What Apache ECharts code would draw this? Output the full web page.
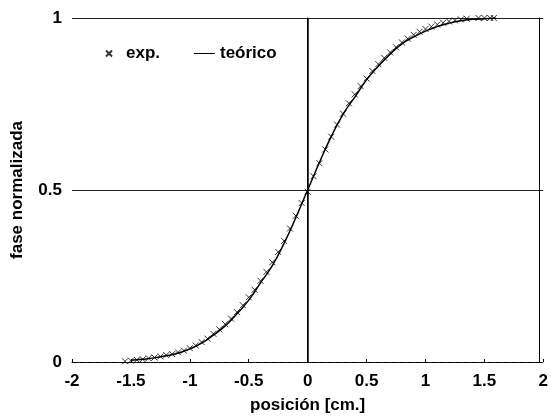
<!DOCTYPE html>
<html>
<head>
<meta charset="utf-8">
<script src="https://cdn.jsdelivr.net/npm/echarts@6/dist/echarts.min.js"></script>
<style>
html, body { margin: 0; padding: 0; background: #fff; }
#chart { width: 551px; height: 419px; }
</style>
</head>
<body>
<div id="chart"></div>
<script>
// posición [cm.] y fase normalizada
var expX = [-1.55, -1.50, -1.45, -1.40, -1.35, -1.30, -1.25, -1.20, -1.15, -1.10,
	-1.05, -1.00, -0.95, -0.90, -0.85, -0.80, -0.75, -0.70, -0.65, -0.60,
	-0.55, -0.50, -0.45, -0.40, -0.35, -0.30, -0.25, -0.20, -0.15, -0.10,
	-0.05, 0.00, 0.05, 0.10, 0.15, 0.20, 0.25, 0.30, 0.35, 0.40,
	0.45, 0.50, 0.55, 0.60, 0.65, 0.70, 0.75, 0.80, 0.85, 0.90,
	0.95, 1.00, 1.05, 1.10, 1.15, 1.20, 1.25, 1.30, 1.35, 1.45,
	1.50, 1.55, 1.58];
var expY = [0.002, 0.004, 0.006, 0.008, 0.011, 0.013, 0.016, 0.020, 0.023, 0.028,
	0.033, 0.040, 0.048, 0.058, 0.068, 0.082, 0.095, 0.110, 0.126, 0.145,
	0.165, 0.188, 0.210, 0.236, 0.262, 0.290, 0.320, 0.352, 0.388, 0.425,
	0.462, 0.495, 0.540, 0.578, 0.618, 0.655, 0.690, 0.722, 0.752, 0.778,
	0.802, 0.824, 0.846, 0.866, 0.884, 0.900, 0.915, 0.929, 0.940, 0.951,
	0.960, 0.968, 0.975, 0.981, 0.986, 0.990, 0.993, 0.996, 0.998, 1.0,
	1.0, 1.0, 1.0];

var teoX = [-1.5, -1.4, -1.3, -1.2, -1.1, -1.0, -0.9, -0.8, -0.7, -0.6,
	-0.5, -0.4, -0.3, -0.2, -0.1, 0.0, 0.1, 0.2, 0.3, 0.4,
	0.5, 0.6, 0.7, 0.8, 0.9, 1.0, 1.1, 1.2, 1.3, 1.4, 1.5, 1.6];
var teoY = [0.005, 0.008, 0.012, 0.018, 0.026, 0.038, 0.055, 0.078, 0.105, 0.14,
	0.18, 0.23, 0.28, 0.345, 0.42, 0.5, 0.58, 0.655, 0.72, 0.77,
	0.82, 0.86, 0.895, 0.925, 0.945, 0.962, 0.975, 0.985, 0.992, 0.996, 0.998, 1.0];

var xTicks = [-2, -1.5, -1, -0.5, 0, 0.5, 1, 1.5, 2];
var yTicks = [0, 0.5, 1];

function pairs(xs, ys) {
	return xs.map(function (x, i) { return [x, ys[i]]; });
}

var fontBold = {
	fontFamily: 'Liberation Sans, Arial, sans-serif',
	fontWeight: 'bold',
	fontSize: 17,
	color: '#000'
};

var cross = 'path://M0,0L10,10M10,0L0,10';

var myChart = echarts.init(document.getElementById('chart'));

var option = {
	animation: false,
	backgroundColor: '#fff',
	textStyle: fontBold,
	grid: {
		left: 72,
		top: 18,
		width: 480,
		height: 345,
		show: false
	},
	legend: [{
		data: [{ name: 'exp.', icon: cross }],
		left: 100,
		top: 40,
		itemWidth: 24,
		itemHeight: 6,
		itemGap: 8,
		textStyle: fontBold
	}, {
		data: [{ name: 'teórico', icon: 'rect' }],
		left: 189,
		top: 40,
		itemWidth: 21,
		itemHeight: 1,
		itemGap: 4,
		textStyle: fontBold
	}],
	xAxis: {
		type: 'value',
		min: -2,
		max: 2,
		interval: 0.5,
		name: 'posición [cm.]',
		nameLocation: 'middle',
		nameGap: 35,
		nameTextStyle: fontBold,
		axisLine: { lineStyle: { color: '#000', width: 1, type: [5, 3] } },
		axisTick: { inside: true, length: 3, lineStyle: { color: '#000' } },
		axisLabel: {
			margin: 11,
			fontFamily: fontBold.fontFamily,
			fontWeight: 'bold',
			fontSize: 17,
			color: '#000',
			formatter: function (v) {
				return xTicks.indexOf(v) >= 0 ? String(v) : '';
			}
		},
		splitLine: { show: false }
	},
	yAxis: [{
		type: 'value',
		min: 0,
		max: 1,
		interval: 0.5,
		name: 'fase normalizada',
		nameLocation: 'middle',
		nameGap: 46,
		nameTextStyle: fontBold,
		axisLine: { show: true, lineStyle: { color: '#000', width: 1 } },
		axisTick: { show: false },
		axisLabel: {
			margin: 10,
			fontFamily: fontBold.fontFamily,
			fontWeight: 'bold',
			fontSize: 17,
			color: '#000',
			formatter: function (v) {
				return yTicks.indexOf(v) >= 0 ? String(v) : '';
			}
		},
		splitLine: { show: true, lineStyle: { color: '#222', width: 1 } }
	}, {
		type: 'value',
		min: 0,
		max: 1,
		position: 'right',
		offset: -4,
		axisLine: { show: true, lineStyle: { color: '#000', width: 1 } },
		axisTick: { show: false },
		axisLabel: { show: false },
		splitLine: { show: false }
	}],
	series: [{
		name: 'teórico',
		type: 'line',
		smooth: true,
		symbol: 'none',
		data: pairs(teoX, teoY),
		lineStyle: { color: '#000', width: 1.5 },
		itemStyle: { color: '#000' },
		markLine: {
			silent: true,
			symbol: 'none',
			label: { show: false },
			lineStyle: { color: '#000', width: 1.5, type: 'solid' },
			data: [{ xAxis: 0 }]
		},
		z: 2
	}, {
		name: 'exp.',
		type: 'scatter',
		symbol: cross,
		symbolSize: 6,
		data: pairs(expX, expY),
		itemStyle: { color: 'transparent', borderColor: '#000', borderWidth: 1 },
		z: 3
	}]
};

myChart.setOption(option);
</script>
</body>
</html>
